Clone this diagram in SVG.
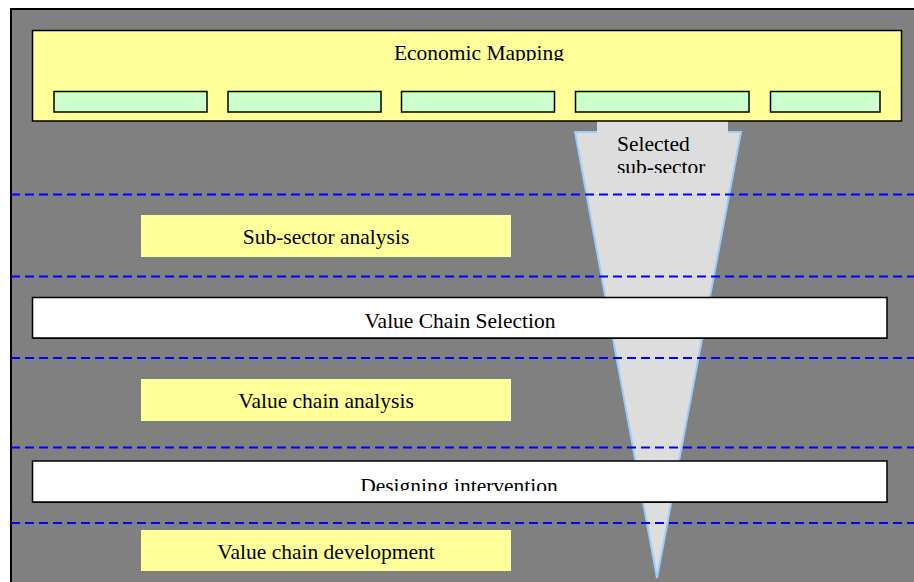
<svg xmlns="http://www.w3.org/2000/svg" width="914" height="582" viewBox="0 0 914 582">
  <style>
    .lbl { font-family: "Liberation Serif", "Times New Roman", serif; font-size: 21.5px; fill: #000; }
    .mid { text-anchor: middle; }
    .stage { fill: #ffff99; stroke: none; }
    .step { fill: #ffffff; stroke: #000; stroke-width: 1.5; }
    .sector { fill: #ccffcc; stroke: #000; stroke-width: 1.5; }
    .divider { stroke: #0000ff; stroke-width: 2; stroke-dasharray: 9 5; fill: none; }
  </style>
  <defs>
    <clipPath id="clipTop"><rect x="32" y="30" width="870" height="31"/></clipPath>
    <clipPath id="clipFunnel"><rect x="597" y="121" width="131" height="52"/></clipPath>
    <clipPath id="clipDesign"><rect x="32" y="461" width="855" height="30"/></clipPath>
  </defs>

  <rect width="914" height="582" fill="#ffffff"/>
  <rect id="panel" x="11" y="9" width="910" height="580" fill="#808080" stroke="#000" stroke-width="2"/>

  <!-- Funnel narrowing from the selected sub-sector -->
  <g id="funnel">
    <polygon points="575,132 741,132 657,578" fill="#dddddd" stroke="#99ccff" stroke-width="2" stroke-linejoin="miter"/>
    <rect x="597" y="121" width="131" height="12" fill="#dddddd"/>
    <g clip-path="url(#clipFunnel)">
      <text class="lbl" x="617" y="151">Selected</text>
      <text class="lbl" x="617" y="174">sub-sector</text>
    </g>
  </g>

  <!-- Stage dividers -->
  <g id="connectors">
    <line class="divider" x1="11" y1="194.5" x2="914" y2="194.5"/>
    <line class="divider" x1="11" y1="276.5" x2="914" y2="276.5"/>
    <line class="divider" x1="11" y1="358" x2="914" y2="358"/>
    <line class="divider" x1="11" y1="447.5" x2="914" y2="447.5"/>
    <line class="divider" x1="11" y1="523" x2="914" y2="523"/>
  </g>

  <g id="economic-mapping">
    <rect x="32.5" y="30.5" width="869" height="90.5" fill="#ffff99" stroke="#000" stroke-width="1.5"/>
    <g clip-path="url(#clipTop)">
      <text class="lbl mid" x="479" y="60">Economic Mapping</text>
    </g>
    <rect class="sector" x="54" y="91.5" width="153" height="20.5"/>
    <rect class="sector" x="228" y="91.5" width="153" height="20.5"/>
    <rect class="sector" x="401.5" y="91.5" width="153" height="20.5"/>
    <rect class="sector" x="575.5" y="91.5" width="173.5" height="20.5"/>
    <rect class="sector" x="770.5" y="91.5" width="109.5" height="20.5"/>
  </g>

  <g id="sub-sector-analysis">
    <rect class="stage" x="141" y="215" width="370" height="42"/>
    <text class="lbl mid" x="326" y="243.5">Sub-sector analysis</text>
  </g>

  <g id="value-chain-selection">
    <rect class="step" x="32.5" y="297.5" width="854.5" height="40.5"/>
    <line x1="33" y1="338.5" x2="887.5" y2="338.5" stroke="#000" stroke-width="1"/>
    <text class="lbl mid" x="460" y="327.5">Value Chain Selection</text>
  </g>

  <g id="value-chain-analysis">
    <rect class="stage" x="141" y="379" width="370" height="42"/>
    <text class="lbl mid" x="326" y="407.5">Value chain analysis</text>
  </g>

  <g id="designing-intervention">
    <rect class="step" x="32.5" y="461" width="854.5" height="41"/>
    <line x1="33" y1="502.5" x2="887.5" y2="502.5" stroke="#000" stroke-width="1"/>
    <g clip-path="url(#clipDesign)">
      <text class="lbl mid" x="459" y="492.5">Designing intervention</text>
    </g>
  </g>

  <g id="value-chain-development">
    <rect class="stage" x="141" y="530" width="370" height="41"/>
    <text class="lbl mid" x="326" y="558.5">Value chain development</text>
  </g>
</svg>
